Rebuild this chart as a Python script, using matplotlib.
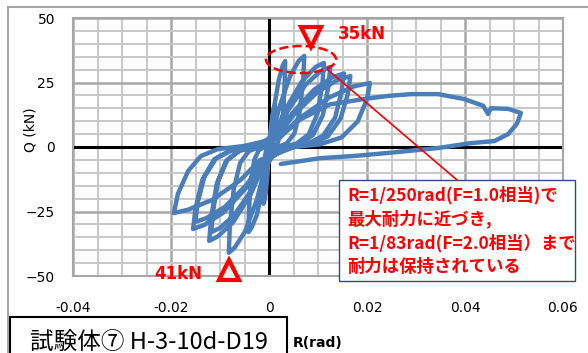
import numpy as np
import matplotlib
matplotlib.use("Agg")
import matplotlib.pyplot as plt
from matplotlib.patches import Ellipse, Rectangle
from matplotlib.lines import Line2D
from matplotlib.ticker import MultipleLocator

plt.rcParams['font.family'] = ['DejaVu Sans', 'Noto Sans CJK JP']

## hysteresis path (R in rad, Q in kN)
r_c1 = [0, 0.00012, 0.00036, 0.00072, 0.00102, 0.0012, 0.00116, 0.00106, 0.00086, 0.0006, 0.0003,
        -0.00011, -0.00033, -0.00066, -0.00094, -0.0011, -0.00107, -0.00097, -0.00079, -0.00055, -0.00028]
q_c1 = [0, 2.4, 7.2, 12.5, 15.2, 16, 12, 6.4, 2.4, 0.6, 0,
        -4.4, -11, -17.6, -20.9, -22, -16.5, -8.8, -3.3, -0.9, 0]

r_c2 = [0.00033, 0.001, 0.002, 0.0028, 0.0033, 0.0032, 0.0029, 0.0024, 0.0017, 0.0008,
        -0.0004, -0.0013, -0.0025, -0.0036, -0.0042, -0.0041, -0.0037, -0.003, -0.0021, -0.001]
q_c2 = [5, 15, 26, 31.6, 33.3, 25, 13.3, 5, 1.3, 0,
        -6.6, -16.5, -26.4, -31.4, -33, -24.8, -13.2, -5, -1.3, 0]

r_c3 = [0.0007, 0.0022, 0.0043, 0.0061, 0.0072, 0.007, 0.0063, 0.0052, 0.0036, 0.0018,
        -0.0008, -0.0025, -0.0049, -0.007, -0.0082, -0.008, -0.0072, -0.0059, -0.0041, -0.002]
q_c3 = [5.3, 15.9, 27.5, 33.5, 35.3, 26.5, 14.1, 5.3, 1.4, 0,
        -8.2, -20.5, -32.8, -39, -41, -30.8, -16.4, -6.2, -1.6, 0]

r_c4 = [0.0011, 0.0034, 0.0067, 0.0095, 0.0112, 0.0109, 0.0099, 0.0081, 0.0056, 0.0028,
        -0.0012, -0.0037, -0.0073, -0.0104, -0.0122, -0.0118, -0.0107, -0.0088, -0.0061, -0.003]
q_c4 = [4.9, 14.7, 25.4, 31, 32.6, 24.5, 13, 4.9, 1.3, 0,
        -7.3, -18.2, -29.1, -34.6, -36.4, -27.3, -14.6, -5.5, -1.5, 0]

r_c5 = [0.0013, 0.0038, 0.0075, 0.0106, 0.0125, 0.0121, 0.011, 0.009, 0.0063, 0.0031,
        -0.0012, -0.0035, -0.0071, -0.01, -0.0118, -0.0114, -0.0104, -0.0085, -0.0059, -0.003]
q_c5 = [4.7, 14, 24.2, 29.5, 31, 23.3, 12.4, 4.7, 1.2, 0,
        -6.6, -16.5, -26.4, -31.4, -33, -24.8, -13.2, -5, -1.3, 0]

r_c6 = [0.0015, 0.0046, 0.0092, 0.013, 0.0153, 0.0148, 0.0135, 0.011, 0.0077, 0.0038,
        -0.0016, -0.0047, -0.0093, -0.0132, -0.0155, -0.015, -0.0136, -0.0112, -0.0078, -0.0039]
q_c6 = [4.3, 12.8, 22.2, 27.1, 28.5, 21.4, 11.4, 4.3, 1.1, 0,
        -6.4, -15.9, -25.4, -30.2, -31.8, -23.9, -12.7, -4.8, -1.3, 0]

r_c7 = [0.0017, 0.005, 0.01, 0.0141, 0.0166, 0.0161, 0.0146, 0.012, 0.0083, 0.0042,
        -0.0015, -0.0045, -0.009, -0.0128, -0.015, -0.0146, -0.0132, -0.0108, -0.0075, -0.0038]
q_c7 = [4.1, 12.4, 21.5, 26.1, 27.5, 20.6, 11, 4.1, 1.1, 0,
        -5.8, -14.5, -23.2, -27.6, -29, -21.8, -11.6, -4.4, -1.2, 0]

r_c8 = [0.0021, 0.0062, 0.0124, 0.0175, 0.0206, 0.02, 0.0181, 0.0148, 0.0103, 0.0052,
        -0.0019, -0.0058, -0.0116, -0.0165, -0.0194, -0.0186, -0.0165, -0.0139, -0.0104, -0.0051]
q_c8 = [3.7, 11.2, 19.3, 23.6, 24.8, 18.6, 9.9, 3.7, 1, 0,
        -5.1, -12.8, -20.5, -24.3, -25.6, -18.2, -9.3, -3.5, -0.8, 0.4]

# last push out to R=0.05
r_push = [0.0021, 0.0062, 0.0124, 0.0194, 0.0243, 0.029, 0.0345, 0.0398, 0.0437, 0.0447, 0.0453,
          0.0488, 0.0514, 0.0506, 0.0488, 0.046, 0.0412, 0.0345, 0.0243, 0.0173, 0.0106, 0.0024]
q_push = [3.5, 10.5, 16.5, 18.6, 19.8, 20.5, 20.5, 18.6, 16, 12.8, 15,
          14.8, 13.2, 9, 5, 2.3, 1.5, -0.4, -2.3, -3.5, -4.3, -6.6]

xticks = [-0.04, -0.02, 0, 0.02, 0.04, 0.06]
xlabels = ['-0.04', '-0.02', '0', '0.02', '0.04', '0.06']
yticks = [-50, -25, 0, 25, 50]

R = r_c1 + r_c2 + r_c3 + r_c4 + r_c5 + r_c6 + r_c7 + r_c8 + r_push
Q = q_c1 + q_c2 + q_c3 + q_c4 + q_c5 + q_c6 + q_c7 + q_c8 + q_push

W, H = 588, 353
fig = plt.figure(figsize=(W / 100, H / 100), dpi=100)
ax = fig.add_axes([73 / W, 1 - 276 / H, 490 / W, 258 / H])

ax.set_xlim(-0.04, 0.06)
ax.set_ylim(-50, 50)
ax.set_xticks(xticks)
ax.set_xticklabels(xlabels)
ax.set_yticks(yticks)
ax.xaxis.set_minor_locator(MultipleLocator(0.005))
ax.yaxis.set_minor_locator(MultipleLocator(5))
ax.grid(which='minor', color='#c8c8c8', lw=1.4)
ax.grid(which='major', color='#a6a6a6', lw=1.8)
ax.set_axisbelow(True)
ax.tick_params(which='both', length=0, labelsize=10)
ax.tick_params(axis='x', pad=18)
ax.tick_params(axis='y', pad=13)
for s in ax.spines.values():
    s.set_color('#a6a6a6')
    s.set_linewidth(1.5)

ax.axhline(0, color='black', lw=2.2, zorder=2)
ax.axvline(0, color='black', lw=2.2, zorder=2)

ax.plot(R, Q, color='#4a7ebb', lw=3.2, solid_joinstyle='round', solid_capstyle='round', zorder=3)

# annotations
ax.add_patch(Ellipse((0.00653, 33.9), 0.0143, 10.5, fill=False, ec='red', ls='--', lw=1.8, zorder=4))
ax.plot([0.0086], [42.6], marker='v', ms=15, mec='red', mfc='#eeeeee', mew=3, clip_on=False, zorder=5)
ax.plot([-0.0082], [-47.7], marker='^', ms=15, mec='red', mfc='#eeeeee', mew=3, clip_on=False, zorder=5)
ax.text(0.0141, 43.8, '35kN', color='red', fontsize=12, fontweight='bold', ha='left', va='center')
ax.text(-0.0235, -49.2, '41kN', color='red', fontsize=12, fontweight='bold', ha='left', va='center',
        clip_on=False)

fig.add_artist(Line2D([328 / W, 457 / W], [1 - 70 / H, 1 - 180 / H], color='red', lw=1.2))

# callout box
fig.add_artist(Rectangle((339 / W, 1 - 281 / H), 236 / W, 101 / H, transform=fig.transFigure,
                         fc='white', ec='#2f4b7c', lw=1.0))
notes = ['R=1/250rad(F=1.0相当)で', '最大耐力に近づき,', 'R=1/83rad(F=2.0相当）まで', '耐力は保持されている']
for i, line in enumerate(notes):
    fig.text(347 / W, 1 - (195 + 24 * i) / H, line, color='red', fontsize=12.5, fontweight='bold',
             family=['Noto Sans CJK JP', 'DejaVu Sans'], ha='left', va='center')

# labels
fig.text(30 / W, 1 - 130 / H, 'Q (kN)', rotation=90, fontsize=10, ha='center', va='center')
fig.text(293 / W, 1 - 343 / H, 'R(rad)', fontsize=10, fontweight='bold', ha='left', va='center')

# title box bottom-left
fig.add_artist(Rectangle((10 / W, -0.1), 277 / W, 0.1 + 1 - 317 / H, transform=fig.transFigure,
                         fc='white', ec='black', lw=1.5))
fig.text(30 / W, 1 - 342 / H, '試験体⑦ H-3-10d-D19', fontsize=17,
         family=['Noto Sans CJK JP', 'DejaVu Sans'], ha='left', va='center')

# outer chart border
fig.add_artist(Line2D([8 / W, 8 / W], [0, 1 - 7 / H], color='#a6a6a6', lw=1.5))
fig.add_artist(Line2D([8 / W, 1], [1 - 7 / H, 1 - 7 / H], color='#a6a6a6', lw=1.5))

fig.savefig('out.png', dpi=100)
